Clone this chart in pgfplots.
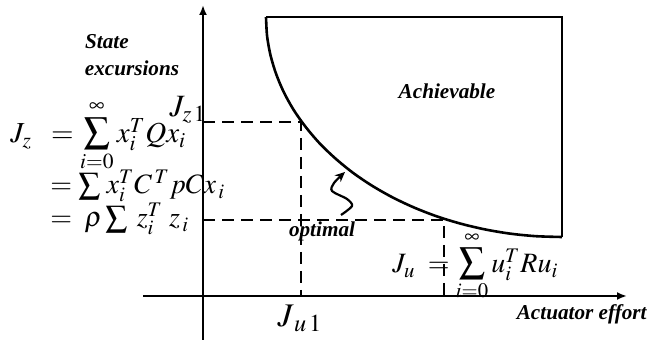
\documentclass[border=0pt]{standalone}
\usepackage{mathptmx}
\usepackage[no-math]{fontspec}
\setmainfont{Liberation Serif}
\usepackage{pgfplots}
\pgfplotsset{compat=1.18}
\usetikzlibrary{arrows.meta}
\newcommand{\bigS}[1]{\mathop{\mbox{\fontsize{#1}{#1}\selectfont$\sum$}}}
\begin{document}
\begin{tikzpicture}
\begin{axis}[x=0.5pt, y=0.5pt, y dir=reverse,
  xmin=0, xmax=648, ymin=0, ymax=340,
  hide axis, clip=false]
\path (0,0) rectangle (648,340);
% axes
\addplot[line width=1.1pt, -{Latex[length=5pt,width=4pt]}] coordinates {(143,296) (627,296)};
\addplot[line width=1.1pt, -{Latex[length=5pt,width=4pt]}] coordinates {(203,340) (203,5)};
% achievable region boundary
\addplot[line width=1.3pt, smooth] coordinates {
(266,17) (267.1,36.2) (270.5,55.2) (276.1,73.9) (283.8,92.2) (293.7,110.0)
(305.7,127.0) (319.5,143.2) (335.3,158.4) (352.7,172.6) (371.7,185.5)
(392.2,197.2) (414,207.5) (436.9,216.4) (460.8,223.7) (485.4,229.5)
(510.6,233.7) (536.2,236.2) (562,237)};
\addplot[line width=1.3pt, line join=miter] coordinates {(562,237) (562,17) (266,17)};
% dashed guides
\addplot[line width=1.4pt, dash pattern=on 6pt off 3.5pt] coordinates {(203,122) (301,122) (301,296)};
\addplot[line width=1.4pt, dash pattern=on 6pt off 3.5pt] coordinates {(203,220) (444,220) (444,296)};
% squiggle arrow
\addplot[line width=1.1pt, smooth, -{Stealth[length=5pt,width=4.5pt]}] coordinates {(341,215) (352,206) (347,199) (332,191) (334,183) (345,172)};
% labels
\tikzset{lbl/.style={font=\bfseries\itshape\fontsize{10.6}{12}\selectfont, inner sep=0pt}}
\node[lbl] at (107,42) {State};
\node[lbl] at (132,68) {excursions};
\node[lbl] at (447,91) {Achievable};
\node[lbl] at (322,231) {optimal};
\node[lbl, anchor=east] at (647,314) {Actuator effort};
% formulas
\tikzset{fml/.style={font=\fontsize{14.5}{16}\selectfont, inner sep=0pt}}
\node[fml, anchor=west] at (10,136) {$J_{z}\;\; = \bigS{18.5}\limits_{i=0}^{\infty} x_i^T Q x_{i}$};
\node[fml, anchor=west, font=\fontsize{14}{15}\selectfont] at (50,186) {$= \bigS{15.5} \,x_i^T C^{\,T} pCx_{\,i}$};
\node[fml, anchor=west, font=\fontsize{14}{15}\selectfont] at (50,219) {$= \;\rho \bigS{15.5} \;z_i^T \;z_{\,i}$};
\node[fml, anchor=west, font=\fontsize{14}{16}\selectfont] at (392,266) {$J_{u}\; =\bigS{18.5}\limits_{i=0}^{\infty} u_i^T Ru_{i}$};
\node[inner sep=0pt, font=\fontsize{15.5}{17}\selectfont] at (188,110) {$J_{z\,1}$};
\node[inner sep=0pt, font=\fontsize{16.5}{18}\selectfont] at (300,318) {$J_{\,u\,1}$};
\end{axis}
\end{tikzpicture}
\end{document}
